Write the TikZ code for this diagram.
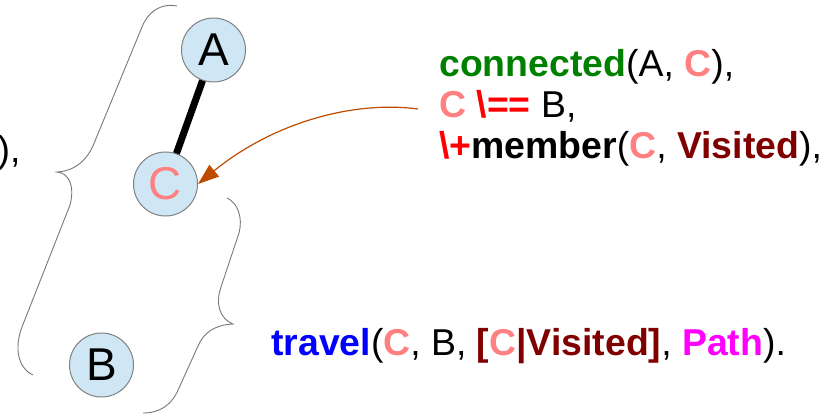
\documentclass[tikz,border=0pt]{standalone}
\usepackage{fontspec}
\setmainfont{Liberation Sans}
\usetikzlibrary{arrows.meta}
\definecolor{nodefill}{RGB}{207,231,245}
\definecolor{nodeline}{RGB}{128,128,128}
\definecolor{varpink}{RGB}{255,128,128}
\definecolor{predgreen}{RGB}{0,128,0}
\definecolor{listred}{RGB}{128,0,0}
\definecolor{opred}{RGB}{255,0,0}
\definecolor{goalblue}{RGB}{0,0,255}
\definecolor{outmagenta}{RGB}{255,0,255}
\definecolor{arrowcol}{RGB}{190,75,0}
\definecolor{bracecol}{RGB}{120,120,120}
% the variable C, always bold and pink
\newcommand{\vC}{\textbf{\color{varpink}C}}
\begin{document}
\begin{tikzpicture}[x=1pt,y=-1pt,
  vertex/.style={circle, draw=nodeline, line width=1pt, fill=nodefill,
    minimum size=64pt, inner sep=0pt, font=\fontsize{46}{46}\selectfont},
  codeline/.style={anchor=base west, inner sep=0pt,
    font=\fontsize{37.4}{44}\selectfont},
  bracket/.style={draw=bracecol, line width=0.9pt},
  link/.style={line width=7pt},
  hint/.style={draw=arrowcol, line width=1.2pt,
    -{Triangle[length=21pt,width=15pt]}}
]
\useasboundingbox (0,0) rectangle (829,414);

% graph
\node[vertex] (A) at (213.5,50) {A};
\node[vertex] (C) at (165.5,184) {\color{varpink}C};
\node[vertex] (B) at (101.5,365) {B};
\draw[link] (A) -- (C);

% braces
\draw[bracket] (177,6) .. controls (160,3) and (148,12) .. (142,27)
  -- (95,141) .. controls (88,160) and (75,171) .. (57,172)
  .. controls (69,173) and (75,186) .. (70,205)
  -- (22,327) .. controls (14,348) and (18,368) .. (33,375);
\draw[bracket] (227,198) .. controls (238,203) and (243,218) .. (239,233)
  -- (221,287) .. controls (215,304) and (220,319) .. (233,324)
  .. controls (215,325) and (204,332) .. (198,346)
  -- (179,388) .. controls (172,405) and (160,413) .. (143,413);

% code
\node[codeline] (l0) at (-2.5,163) {),};
\node[codeline] (l1) at (439,77) {\textbf{\color{predgreen}connected}(A, \vC),};
\node[codeline] (l2) at (439,118) {\vC{} \textbf{\color{opred}\textbackslash==} B,};
\node[codeline] (l3) at (439,159) {\textbf{\color{opred}\textbackslash+}\textbf{member}(\vC, \textbf{\color{listred}Visited}),};
\node[codeline] (l4) at (271,355) {\textbf{\color{goalblue}travel}(\vC, B, \textbf{\color{listred}[}\vC\textbf{\color{listred}|Visited]}, \textbf{\color{outmagenta}Path}).};

% pointer from the code to C
\coordinate (hintstart) at (418,109);
\draw[hint] (hintstart) .. controls (350,100) and (270,125) .. (C.east);
\end{tikzpicture}
\end{document}
